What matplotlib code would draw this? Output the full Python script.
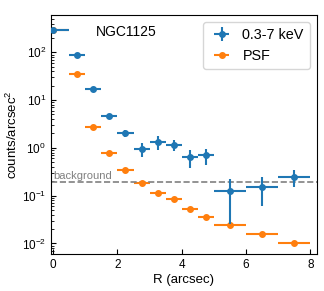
import numpy as np
import matplotlib
matplotlib.use('Agg')
import matplotlib.pyplot as plt

plt.rcParams['font.family'] = ['Liberation Sans', 'DejaVu Sans']
plt.rcParams['mathtext.default'] = 'regular'

# radial profile, 0.3-7 keV
r_obs = [0.0, 0.75, 1.25, 1.75, 2.25, 2.75, 3.25, 3.75, 4.25, 4.75, 5.5, 6.5, 7.5]
r_obs_err = [0.5, 0.25, 0.25, 0.25, 0.25, 0.25, 0.25, 0.25, 0.25, 0.25, 0.5, 0.5, 0.5]
sb_obs = [300, 88, 17, 4.6, 2.0, 0.95, 1.35, 1.15, 0.65, 0.7, 0.125, 0.15, 0.25]
sb_obs_err = [15, 6, 1.5, 0.6, 0.35, 0.3, 0.45, 0.3, 0.27, 0.27, 0.1, 0.09, 0.1]

# PSF profile
r_psf = [0.0, 0.75, 1.25, 1.75, 2.25, 2.75, 3.25, 3.75, 4.25, 4.75, 5.5, 6.5, 7.5]
r_psf_err = [0.5, 0.25, 0.25, 0.25, 0.25, 0.25, 0.25, 0.25, 0.25, 0.25, 0.5, 0.5, 0.5]
sb_psf = [290, 35, 2.8, 0.78, 0.35, 0.185, 0.112, 0.084, 0.053, 0.0356, 0.0248, 0.0155, 0.0102]

bkg = 0.19

fig = plt.figure(figsize=(3.24, 2.91), dpi=100)
ax = fig.add_axes([0.157, 0.127, 0.821, 0.821])

ax.errorbar(r_psf, sb_psf, xerr=r_psf_err, fmt='o', color='tab:orange', ms=4, lw=1.5,
            label='PSF', zorder=2)
ax.errorbar(r_obs, sb_obs, xerr=r_obs_err, yerr=sb_obs_err, fmt='o', color='tab:blue',
            ms=4, lw=1.5, label='0.3-7 keV', zorder=3)
ax.axhline(bkg, color='gray', ls='--', lw=1.2)
ax.text(0.0, bkg * 1.06, 'background', color='gray', fontsize=8, va='bottom')

ax.set_yscale('log')
ax.set_xlim(-0.07, 8.2)
ax.set_ylim(0.006, 600)
ax.set_xticks([0, 2, 4, 6, 8])
ax.tick_params(direction='in', labelsize=8.5)
ax.tick_params(which='minor', direction='in')
ax.set_xlabel('R (arcsec)', fontsize=9.5, labelpad=2)
ax.set_ylabel('counts/arcsec$^2$', fontsize=9.5, labelpad=1)
ax.text(0.17, 0.93, 'NGC1125', transform=ax.transAxes, fontsize=10, va='center')

h, l = ax.get_legend_handles_labels()
ax.legend(h[::-1], l[::-1], loc='upper right', fontsize=10.4, handletextpad=0.6,
          handlelength=1.7, borderaxespad=0.5)

fig.savefig('out.png', dpi=100)
